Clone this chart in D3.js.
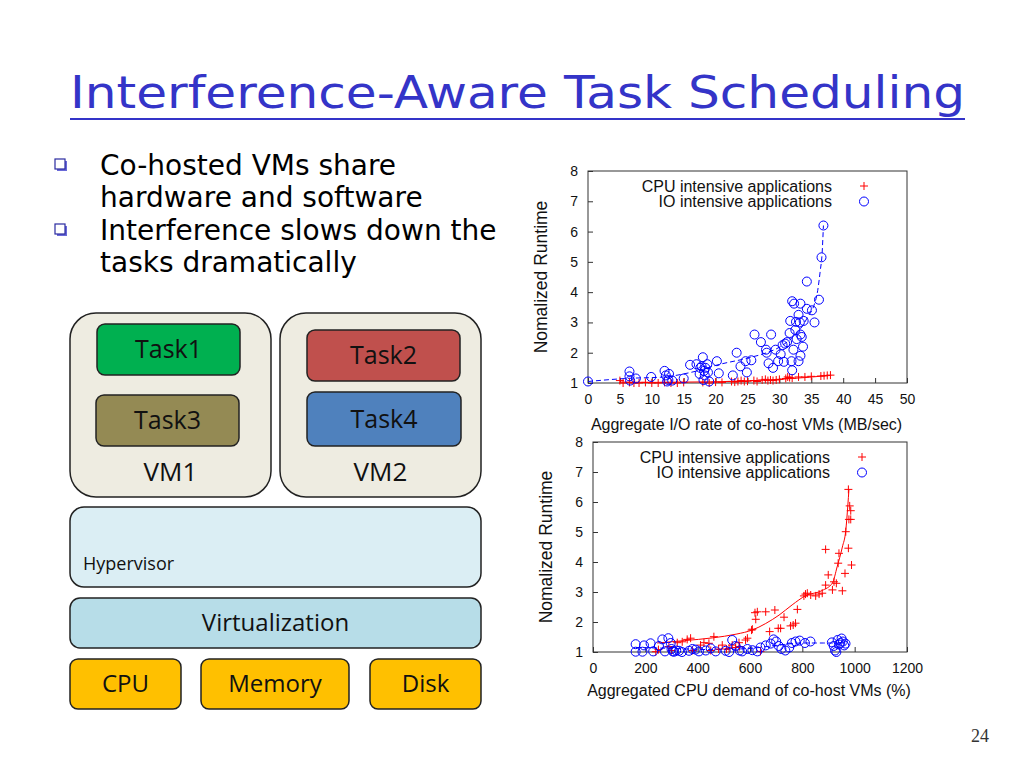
<!DOCTYPE html>
<html>
<head>
<meta charset="utf-8">
<script src="https://cdn.jsdelivr.net/npm/d3@7"></script>
<style>
  html, body { margin: 0; padding: 0; background: #fff; }
  svg text { font-family: "Liberation Sans", Arial, sans-serif; }
</style>
</head>
<body>
<svg id="slide" width="1024" height="768"></svg>
<script>
// ---- data ----
const topXTicks = [0, 5, 10, 15, 20, 25, 30, 35, 40, 45, 50];
const yTicks = [1, 2, 3, 4, 5, 6, 7, 8];
const bottomXTicks = [0, 200, 400, 600, 800, 1000, 1200];

const topIoPoints = [
  [0, 1.05], [6.5, 1.38], [6.5, 1.22], [6.6, 1.08], [7.5, 1.15], [9.9, 1.2],
  [12, 1.4], [12.2, 1.25], [12.7, 1.3], [12.6, 1.1], [13.2, 1.08], [12.4, 1.05],
  [15, 1.15], [16, 1.6], [17, 1.62], [17.6, 1.5], [17.8, 1.55], [18, 1.85],
  [18.2, 1.4], [18.4, 1.5], [18.7, 1.62], [17.5, 1.3], [18.3, 1.25], [18.8, 1.35],
  [18.1, 1.1], [19, 1.05], [20.2, 1.72], [20.5, 1.32], [22.7, 1.25], [23.3, 2.0],
  [23.9, 1.55], [24.7, 1.72], [24.9, 1.35], [25.6, 1.75], [26.1, 2.6], [27.1, 2.35],
  [27.9, 2.1], [28, 2.0], [28.7, 2.6], [28.3, 1.65], [29, 1.5], [29.4, 2.1],
  [29.8, 1.72], [30.2, 1.95], [30.5, 2.25], [30.9, 2.3], [30.7, 1.7], [31.2, 2.35],
  [31.6, 2.65], [31.7, 3.05], [32, 3.7], [32.3, 3.62], [31.9, 1.72], [32, 1.42],
  [32.2, 2.1], [32.5, 2.75], [32.6, 3.02], [32.7, 2.45], [33, 3.25], [33, 1.72],
  [33.3, 3.62], [33.2, 3.0], [33.3, 2.6], [33.5, 2.52], [33.7, 2.2], [33.3, 1.9],
  [33.8, 3.05], [34.3, 3.45], [34.3, 4.35], [35.1, 3.4], [35.5, 3.0], [36.2, 3.75],
  [36.6, 5.15], [36.9, 6.2]
];
const topCpuPoints = [
  [5, 1.08], [5.5, 1.0], [6.5, 1.02], [7.2, 1.0], [8, 1.0], [9, 1.02], [10, 1.0],
  [11, 1.0], [12, 1.02], [13, 1.0], [14, 1.0], [15, 1.02], [18, 1.02], [19, 1.0],
  [20, 1.03], [21, 1.02], [22.5, 1.05], [23, 1.03], [23.5, 1.05], [24, 1.08],
  [24.5, 1.05], [25, 1.06], [26, 1.08], [26.5, 1.05], [27.3, 1.1], [27.8, 1.12],
  [28.2, 1.08], [28.6, 1.1], [29, 1.08], [29.5, 1.1], [30, 1.12], [31, 1.15],
  [31.3, 1.2], [31.6, 1.18], [32, 1.16], [33, 1.2], [34, 1.2], [35, 1.22],
  [36.5, 1.23], [37, 1.24], [37.5, 1.25], [38, 1.26]
];
const topIoFit = [
  [0, 1.05], [6, 1.15], [12, 1.2], [15, 1.3], [18, 1.45], [20, 1.58], [25, 1.82],
  [28, 2.0], [30, 2.18], [32, 2.5], [33.5, 2.85], [34.5, 3.2], [35.4, 3.55],
  [36, 4.05], [36.4, 4.7], [36.7, 5.3], [36.9, 6.2]
];
const topCpuFit = [
  [5, 1.03], [10, 1.02], [15, 1.03], [20, 1.04], [25, 1.07], [30, 1.12], [34, 1.18], [38, 1.25]
];

const bottomCpuPoints = [
  [240, 1.01], [250, 1.08], [290, 1.18], [300, 1.05], [322, 1.31], [341, 1.34],
  [360, 1.42], [373, 1.46], [380, 1.05], [411, 1.23], [424, 1.31], [443, 1.29],
  [450, 1.05], [462, 1.51], [480, 1.1], [494, 1.23], [510, 1.1], [520, 1.12],
  [532, 1.23], [545, 1.15], [558, 1.31], [560, 1.18], [583, 1.4], [590, 1.46],
  [606, 1.73], [609, 1.76], [622, 2.09], [619, 2.31], [628, 2.34], [640, 1.02],
  [660, 2.34], [675, 1.68], [695, 2.4], [708, 1.79], [717, 1.79], [730, 2.16],
  [755, 1.87], [765, 1.9], [774, 1.96], [781, 2.42], [806, 2.87], [812, 2.93],
  [819, 2.96], [832, 2.9], [851, 2.87], [864, 2.93], [876, 2.96], [889, 3.23],
  [889, 4.42], [899, 3.57], [915, 3.07], [921, 3.34], [930, 3.29], [937, 3.96],
  [940, 4.29], [953, 3.04], [963, 3.62], [966, 5.01], [976, 4.46], [976, 6.42],
  [978, 5.42], [981, 5.87], [985, 5.71], [985, 5.42], [988, 3.9]
];
const bottomIoPoints = [
  [163, 1.26], [163, 1.01], [189, 1.01], [195, 1.22], [220, 1.29], [230, 1.02],
  [252, 1.2], [265, 1.42], [275, 1.02], [288, 1.46], [297, 1.3], [300, 1.1],
  [305, 1.02], [310, 1.01], [318, 1.05], [329, 1.04], [340, 1.0], [367, 1.04],
  [380, 1.1], [392, 1.08], [405, 1.02], [431, 1.05], [450, 1.12], [469, 1.02],
  [507, 1.04], [520, 1.0], [532, 1.4], [545, 1.2], [560, 1.05], [570, 1.02],
  [590, 1.1], [609, 1.06], [628, 1.02], [640, 1.15], [660, 1.22], [679, 1.28],
  [690, 1.42], [700, 1.35], [710, 1.2], [720, 1.1], [735, 1.05], [750, 1.15],
  [760, 1.3], [774, 1.35], [790, 1.38], [810, 1.3], [831, 1.35], [913, 1.32],
  [920, 1.2], [925, 1.05], [930, 1.0], [935, 1.4], [940, 1.25], [945, 1.3],
  [950, 1.45], [955, 1.35], [960, 1.22], [965, 1.28]
];
const bottomCpuFit = [
  [245, 1.3], [350, 1.38], [456, 1.47], [550, 1.6], [608, 1.73], [660, 1.95],
  [711, 2.23], [761, 2.57], [813, 2.88], [876, 3.05], [915, 3.3], [933, 3.84],
  [953, 4.5], [966, 5.05], [974, 5.9], [978, 6.4]
];
const bottomIoFit = [
  [165, 1.15], [300, 1.12], [450, 1.08], [600, 1.12], [700, 1.22], [800, 1.3], [880, 1.3], [960, 1.3]
];

const legendLabels = ['CPU intensive applications', 'IO intensive applications'];

const svg = d3.select('#slide');

// ---- slide title and bullets ----
svg.append('text')
  .attr('x', 70).attr('y', 108)
  .attr('fill', '#3434c8')
  .style('font-family', '"DejaVu Sans", sans-serif')
  .style('font-size', '44px')
  .attr('textLength', 895)
  .attr('lengthAdjust', 'spacingAndGlyphs')
  .text('Interference-Aware Task Scheduling');
svg.append('line')
  .attr('x1', 70).attr('x2', 965).attr('y1', 119).attr('y2', 119)
  .attr('stroke', '#3434c8').attr('stroke-width', 2);

const bulletLines = [
  { text: 'Co-hosted VMs share', y: 175, bullet: true },
  { text: 'hardware and software', y: 207, bullet: false },
  { text: 'Interference slows down the', y: 240, bullet: true },
  { text: 'tasks dramatically', y: 272, bullet: false }
];
bulletLines.forEach((b) => {
  if (b.bullet) {
    svg.append('rect').attr('x', 57).attr('y', b.y - 14).attr('width', 10).attr('height', 10)
      .attr('fill', '#6a6ad8');
    svg.append('rect').attr('x', 55).attr('y', b.y - 16).attr('width', 10).attr('height', 10)
      .attr('fill', '#fff').attr('stroke', '#2a2aa0').attr('stroke-width', 1.2);
  }
  svg.append('text')
    .attr('x', 100).attr('y', b.y)
    .style('font-family', '"DejaVu Sans", sans-serif')
    .style('font-size', '28px')
    .attr('fill', '#000')
    .text(b.text);
});

// ---- VM diagram ----
const diagram = svg.append('g');
function box(x, y, w, h, r, fill, label, size, anchor, ty) {
  diagram.append('rect')
    .attr('x', x).attr('y', y).attr('width', w).attr('height', h).attr('rx', r)
    .attr('fill', fill).attr('stroke', '#222').attr('stroke-width', 1.5);
  if (label) {
    diagram.append('text')
      .attr('x', anchor === 'start' ? x + 13 : x + w / 2)
      .attr('y', ty !== undefined ? ty : y + h / 2)
      .attr('dy', '0.35em')
      .attr('text-anchor', anchor || 'middle')
      .style('font-family', '"Open Sans", sans-serif')
      .style('font-size', size + 'px')
      .attr('fill', '#111')
      .text(label);
  }
}
box(70, 313, 201, 184, 26, '#eeece1', 'VM1', 26, 'middle', 472);
box(280, 313, 201, 184, 26, '#eeece1', 'VM2', 26, 'middle', 472);
box(97, 324, 143, 51, 8, '#00b050', 'Task1', 25);
box(96, 395, 143, 51, 8, '#948a54', 'Task3', 25);
box(307, 330, 153, 51, 8, '#c0504d', 'Task2', 25);
box(307, 392, 154, 54, 8, '#4f81bd', 'Task4', 25);
box(70, 507, 411, 80, 14, '#dbeef4', 'Hypervisor', 18, 'start', 564);
box(70, 598, 411, 50, 10, '#b7dde8', 'Virtualization', 24);
box(70, 659, 111, 50, 8, '#ffc000', 'CPU', 24);
box(201, 659, 148, 50, 8, '#ffc000', 'Memory', 24);
box(370, 659, 111, 50, 8, '#ffc000', 'Disk', 24);

// page number
svg.append('text')
  .attr('x', 980).attr('y', 742).attr('text-anchor', 'middle')
  .style('font-family', '"Liberation Serif", serif').style('font-size', '18px')
  .attr('fill', '#333').text('24');

// ---- scatter plots ----
function crossPath(x, y) {
  const s = 4;
  return `M${x - s},${y}H${x + s}M${x},${y - s}V${y + s}`;
}

function scatter(opts) {
  const x = d3.scaleLinear().domain(opts.xDomain).range(opts.xRange);
  const y = d3.scaleLinear().domain([1, 8]).range(opts.yRange);
  const g = svg.append('g');

  const xAxis = d3.axisBottom(x).tickValues(opts.xTicks).tickFormat(d3.format('d'))
    .tickSizeInner(-5).tickSizeOuter(0).tickPadding(11);
  const yAxis = d3.axisLeft(y).tickValues(yTicks).tickFormat(d3.format('d'))
    .tickSizeInner(-5).tickSizeOuter(0).tickPadding(10);

  const gx = g.append('g').attr('transform', `translate(0,${opts.yRange[0]})`).call(xAxis);
  const gy = g.append('g').attr('transform', `translate(${opts.xRange[0]},0)`).call(yAxis);
  [gx, gy].forEach((a) => {
    a.select('.domain').remove();
    a.selectAll('line').attr('stroke', '#333');
    a.selectAll('text').style('font-size', '14px').style('font-family', '"Liberation Sans", Arial, sans-serif').attr('fill', '#111');
  });

  g.append('rect')
    .attr('x', opts.xRange[0]).attr('y', opts.yRange[1])
    .attr('width', opts.xRange[1] - opts.xRange[0])
    .attr('height', opts.yRange[0] - opts.yRange[1])
    .attr('fill', 'none').attr('stroke', '#333').attr('stroke-width', 1);

  const line = d3.line().x((d) => x(d[0])).y((d) => y(d[1])).curve(d3.curveMonotoneX);

  g.append('path').datum(opts.cpuFit).attr('d', line)
    .attr('fill', 'none').attr('stroke', '#ff0000').attr('stroke-width', 1);
  g.append('path').datum(opts.ioFit).attr('d', line)
    .attr('fill', 'none').attr('stroke', '#0000ff').attr('stroke-width', 1).attr('stroke-dasharray', '5,3');

  g.selectAll('path.cpu').data(opts.cpu).join('path')
    .attr('class', 'cpu')
    .attr('d', (d) => crossPath(x(d[0]), y(d[1])))
    .attr('stroke', '#ff0000').attr('stroke-width', 1).attr('fill', 'none');
  g.selectAll('circle.io').data(opts.io).join('circle')
    .attr('class', 'io')
    .attr('cx', (d) => x(d[0])).attr('cy', (d) => y(d[1])).attr('r', 4.5)
    .attr('stroke', '#0000ff').attr('stroke-width', 1).attr('fill', 'none');

  // legend
  legendLabels.forEach((lab, i) => {
    const ly = opts.legendY + i * 15.5;
    g.append('text').attr('x', opts.legendX).attr('y', ly).attr('dy', '0.35em')
      .attr('text-anchor', 'end').style('font-size', '16px').attr('fill', '#111').text(lab);
    if (i === 0) {
      g.append('path').attr('d', crossPath(opts.legendX + 32, ly))
        .attr('stroke', '#ff0000').attr('stroke-width', 1).attr('fill', 'none');
    } else {
      g.append('circle').attr('cx', opts.legendX + 32).attr('cy', ly).attr('r', 4.5)
        .attr('stroke', '#0000ff').attr('stroke-width', 1).attr('fill', 'none');
    }
  });

  // axis titles
  g.append('text')
    .attr('x', (opts.xRange[0] + opts.xRange[1]) / 2 - 1).attr('y', opts.xTitleY).attr('dy', '0.35em')
    .attr('text-anchor', 'middle').style('font-size', '16px').attr('fill', '#111')
    .text(opts.xTitle);
  g.append('text')
    .attr('transform', `translate(${opts.yTitleX},${(opts.yRange[0] + opts.yRange[1]) / 2}) rotate(-90)`)
    .attr('dy', '0.35em').attr('text-anchor', 'middle')
    .style('font-size', '17.5px').attr('fill', '#111')
    .text('Nomalized Runtime');
}

scatter({
  xDomain: [0, 50], xRange: [588, 907], yRange: [383, 171], xTicks: topXTicks,
  cpu: topCpuPoints, io: topIoPoints, cpuFit: topCpuFit, ioFit: topIoFit,
  legendX: 832, legendY: 186, xTitleY: 424, yTitleX: 541,
  xTitle: 'Aggregate I/O rate of co-host VMs (MB/sec)'
});
scatter({
  xDomain: [0, 1200], xRange: [593, 907], yRange: [652, 442], xTicks: bottomXTicks,
  cpu: bottomCpuPoints, io: bottomIoPoints, cpuFit: bottomCpuFit, ioFit: bottomIoFit,
  legendX: 830, legendY: 457, xTitleY: 690, yTitleX: 546,
  xTitle: 'Aggregated CPU demand of co-host VMs (%)'
});
</script>
</body>
</html>
